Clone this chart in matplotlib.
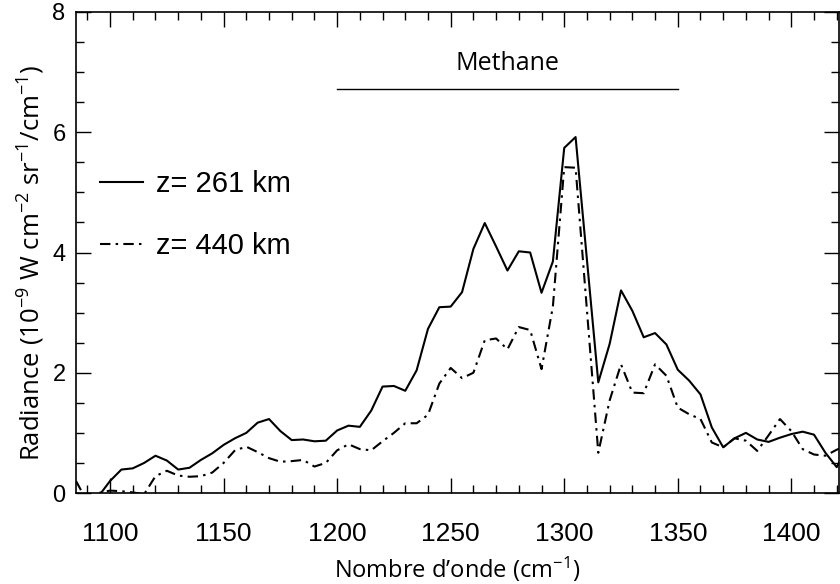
import matplotlib
matplotlib.use("Agg")
import matplotlib.pyplot as plt
import numpy as np

# ---- data ----
wavenumber = [1085, 1090, 1095, 1100, 1105, 1110, 1115, 1120, 1125, 1130,
              1135, 1140, 1145, 1150, 1155, 1160, 1165, 1170, 1175, 1180,
              1185, 1190, 1195, 1200, 1205, 1210, 1215, 1220, 1225, 1230,
              1235, 1240, 1245, 1250, 1255, 1260, 1265, 1270, 1275, 1280,
              1285, 1290, 1295, 1300, 1305, 1310, 1315, 1320, 1325, 1330,
              1335, 1340, 1345, 1350, 1355, 1360, 1365, 1370, 1375, 1380,
              1385, 1390, 1395, 1400, 1405, 1410, 1415, 1420, 1425]

rad_261 = [-0.8, -0.4, -0.05, 0.20, 0.39, 0.41, 0.50, 0.62, 0.54, 0.39,
           0.42, 0.55, 0.66, 0.80, 0.91, 1.00, 1.17, 1.23, 1.03, 0.88,
           0.89, 0.86, 0.87, 1.04, 1.12, 1.10, 1.37, 1.77, 1.78, 1.70,
           2.04, 2.73, 3.09, 3.10, 3.34, 4.06, 4.49, 4.10, 3.70, 4.02,
           4.00, 3.33, 3.85, 5.74, 5.92, 3.88, 1.84, 2.48, 3.37, 3.03,
           2.59, 2.66, 2.47, 2.05, 1.87, 1.64, 1.09, 0.76, 0.91, 1.00,
           0.89, 0.85, 0.92, 0.98, 1.02, 0.97, 0.67, 0.43, 0.80]

rad_440 = [0.20, -0.15, 0.00, 0.04, 0.03, 0.01, -0.02, 0.28, 0.37, 0.29,
           0.27, 0.28, 0.34, 0.50, 0.71, 0.77, 0.68, 0.58, 0.52, 0.53,
           0.55, 0.44, 0.50, 0.71, 0.81, 0.73, 0.71, 0.86, 1.00, 1.16,
           1.16, 1.30, 1.82, 2.08, 1.91, 2.00, 2.54, 2.57, 2.39, 2.76,
           2.71, 2.06, 3.10, 5.42, 5.41, 3.04, 0.67, 1.54, 2.14, 1.67,
           1.66, 2.14, 1.95, 1.42, 1.31, 1.23, 0.84, 0.76, 0.91, 0.87,
           0.70, 0.96, 1.23, 1.03, 0.73, 0.64, 0.62, 0.72, 0.80]

labels = ["z= 261 km", "z= 440 km"]
xticks = [1100, 1150, 1200, 1250, 1300, 1350, 1400]
yticks = [0, 2, 4, 6, 8]
band_range = [1200, 1350]
band_level = 6.72
band_label = "Methane"

# ---- style ----
plt.rcParams['font.family'] = ['Liberation Sans', 'DejaVu Sans']
plt.rcParams['mathtext.fontset'] = 'custom'
plt.rcParams['mathtext.rm'] = 'Open Sans'
plt.rcParams['mathtext.it'] = 'Open Sans'

fig = plt.figure(figsize=(8.4, 5.84), dpi=100)
ax = fig.add_axes([76/840, 91/584, 763/840, 481/584])

ax.plot(wavenumber, rad_261, color='black', lw=1.5, label=labels[0])
ax.plot(wavenumber, rad_440, color='black', lw=1.5,
        dashes=(5, 2.5, 1.2, 2.5), label=labels[1])

ax.set_xlim(1085, 1421)
ax.set_ylim(0, 8)
ax.set_xticks(xticks)
ax.set_yticks(yticks)
ax.set_xticks(np.arange(1090, 1421, 10), minor=True)
ax.set_yticks(np.arange(0, 8.01, 0.5), minor=True)
ax.tick_params(which='both', direction='in', top=True, right=True,
               width=1.0, colors='black')
ax.tick_params(which='major', length=11)
ax.tick_params(which='minor', length=6)
ax.tick_params(axis='x', pad=21, labelsize=19)
ax.tick_params(axis='y', pad=7.5, labelsize=17)
for s in ax.spines.values():
    s.set_linewidth(1.2)

# methane band marker
ax.plot(band_range, [band_level, band_level], color='black', lw=1.0)
ax.text(np.mean(band_range), 7.15, band_label, ha='center', va='center',
        fontsize=18, family=['Open Sans', 'DejaVu Sans'])

ax.set_xlabel("Nombre d\u2019onde (cm$^{-1}$)", fontsize=17,
              family=['Open Sans', 'DejaVu Sans'], labelpad=6)
ax.set_ylabel("Radiance (10$^{-9}$ W cm$^{-2}$ sr$^{-1}$/cm$^{-1}$)",
              fontsize=18.5, family=['Open Sans', 'DejaVu Sans'], labelpad=4)
ax.yaxis.label.set_y(0.478)

leg = ax.legend(loc='upper left', bbox_to_anchor=(0.031, 0.672),
                frameon=False, fontsize=21, handlelength=1.5,
                handletextpad=0.42, labelspacing=1.18,
                borderpad=0, borderaxespad=0)

fig.savefig("out.png", dpi=100)
